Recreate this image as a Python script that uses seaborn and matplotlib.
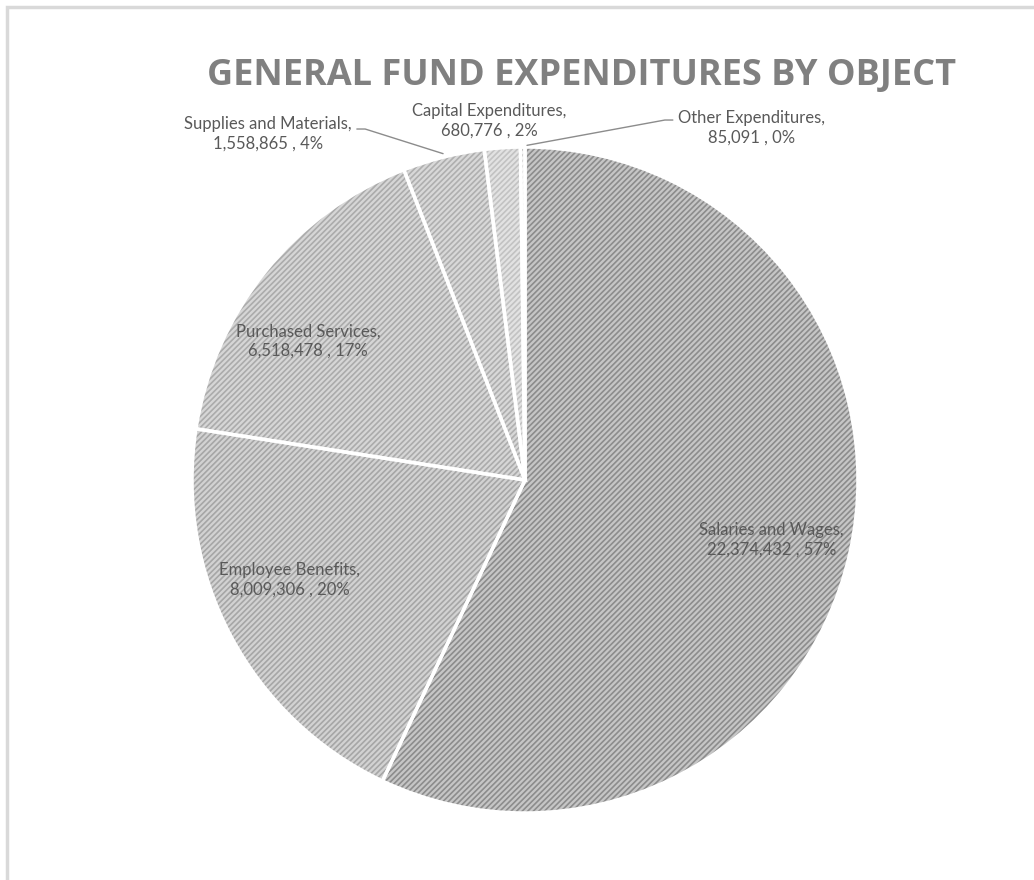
import matplotlib
matplotlib.use("Agg")
import matplotlib.pyplot as plt
import seaborn as sns

# Expenditure categories and amounts (clockwise from 12 o'clock)
categories = ["Salaries and Wages", "Employee Benefits", "Purchased Services",
              "Supplies and Materials", "Capital Expenditures", "Other Expenditures"]
amounts = [22374432, 8009306, 6518478, 1558865, 680776, 85091]
title = "GENERAL FUND EXPENDITURES BY OBJECT"

sns.set_theme(style="white")
plt.rcParams["font.family"] = ["Lato", "DejaVu Sans"]
plt.rcParams["hatch.linewidth"] = 1.2

face_colors = ["#c6c6c6", "#d2d2d2", "#d6d6d6", "#d8d8d8", "#e2e2e2", "#eeeeee"]
hatch_colors = ["#8c8c8c", "#a6a6a6", "#ababab", "#afafaf", "#c2c2c2", "#a0a0a0"]

fig = plt.figure(figsize=(10.34, 8.8), dpi=100)
fig.patch.set_facecolor("white")

# light frame along top and left edges
frame = plt.Rectangle((7 / 1034, -0.1), 1.2, 1 - 7 / 880 + 0.1, transform=fig.transFigure,
                      fill=False, edgecolor="#d9d9d9", linewidth=2.5)
fig.add_artist(frame)

cx, cy, r = 525, 480, 333
ax = fig.add_axes([(cx - r) / 1034, (880 - cy - r) / 880, 2 * r / 1034, 2 * r / 880])
ax.set_aspect("equal")

wedges, _ = ax.pie(amounts, startangle=90, counterclock=False, radius=1,
                   wedgeprops=dict(linewidth=0))
for w, fc, hc in zip(wedges, face_colors, hatch_colors):
    w.set_facecolor(fc)
    w.set_edgecolor(hc)
    w.set_hatch("//////")
    w.set_linewidth(0)

# white separators between slices
ax.pie(amounts, startangle=90, counterclock=False, radius=1,
       wedgeprops=dict(facecolor="none", edgecolor="white", linewidth=2.5))
ax.set_xlim(-1, 1)
ax.set_ylim(-1, 1)
ax.axis("off")

total = sum(amounts)
label_pos = [(0.74, -0.18), (-0.706, -0.30), (-0.652, 0.417),
             (-0.772, 1.039), (-0.108, 1.078), (0.679, 1.057)]
for name, val, (x, y) in zip(categories, amounts, label_pos):
    pct = round(100 * val / total)
    ax.text(x, y, f"{name},\n{val:,} , {pct}%", ha="center", va="center",
            fontsize=12, color="#595959", linespacing=1.3, clip_on=False)

# leader lines for the narrow top slices
ax.plot([-0.505, -0.480, -0.246], [1.054, 1.054, 0.980], color="#8c8c8c", lw=1,
        clip_on=False)
ax.plot([0.444, 0.420, 0.006], [1.081, 1.081, 1.005], color="#8c8c8c", lw=1,
        clip_on=False)

fig.text(582 / 1034, 1 - 76 / 880, title, ha="center", va="center",
         fontsize=26, fontweight="bold", color="#808080",
         family=["Open Sans", "DejaVu Sans"])

fig.savefig("out.png", dpi=100, facecolor="white")
